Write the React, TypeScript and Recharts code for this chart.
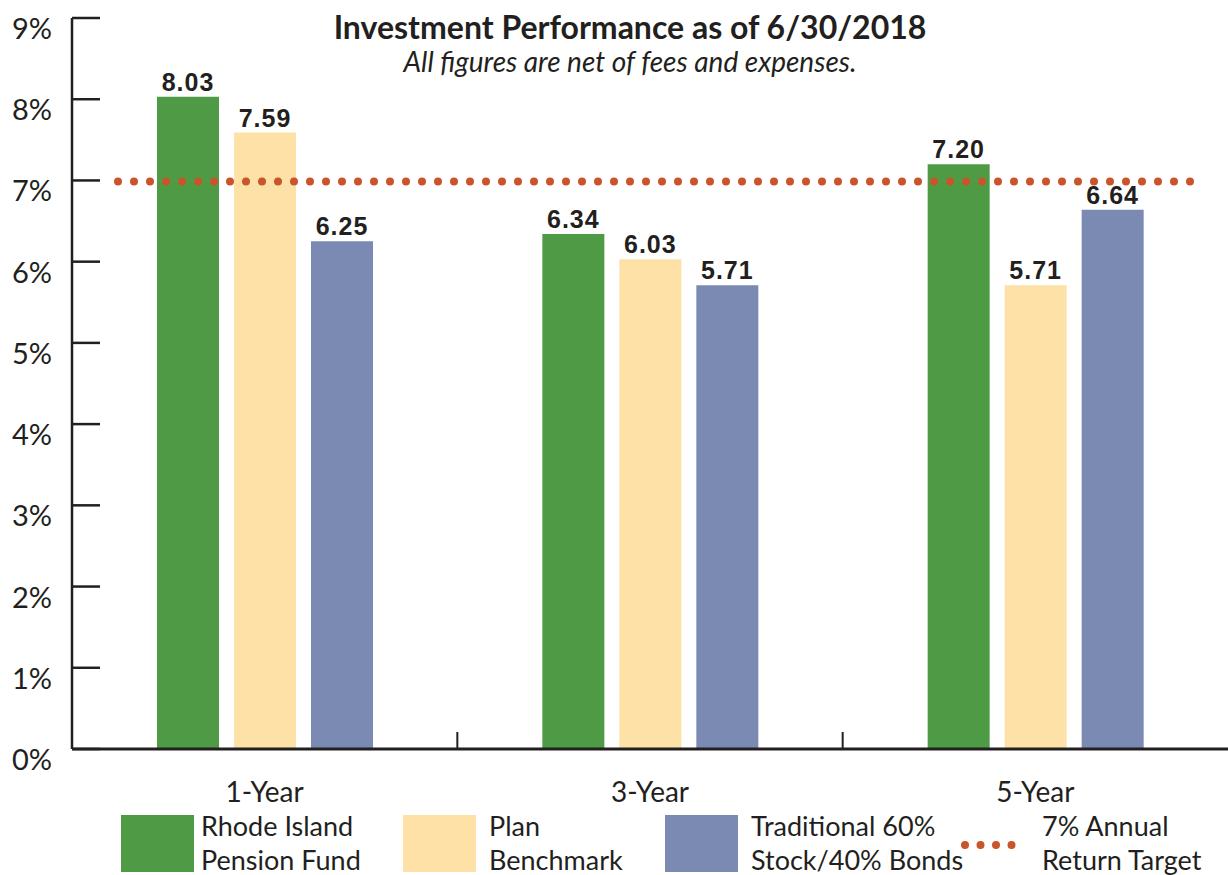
import { Bar, BarChart, LabelList, ReferenceLine, XAxis, YAxis } from 'recharts'

const categories = ['1-Year', '3-Year', '5-Year']
const rhodeIsland = [8.03, 6.34, 7.2]
const planBenchmark = [7.59, 6.03, 5.71]
const traditional = [6.25, 5.71, 6.64]
const yTicks = [0, 1, 2, 3, 4, 5, 6, 7, 8, 9]
const annualTarget = 7

const seriesNames = ['Rhode Island|Pension Fund', 'Plan|Benchmark', 'Traditional 60%|Stock/40% Bonds', '7% Annual|Return Target']

const GREEN = '#4f9a44'
const YELLOW = '#fde1a6'
const BLUE = '#7a8ab2'
const ORANGE = '#c8552b'
const INK = '#231f20'

const W = 1228
const H = 875
const PLOT_LEFT = 72
const PLOT_TOP = 18
const PLOT_BOTTOM = 749

const data = categories.map((period, i) => ({
  period,
  ri: rhodeIsland[i],
  plan: planBenchmark[i],
  trad: traditional[i],
}))

const bandWidth = (W - PLOT_LEFT) / categories.length

const font = 'Lato, "Open Sans", sans-serif'

const YTick = ({ x, y, payload }: any) => (
  <g>
    <line x1={x} x2={x + 28} y1={y} y2={y} stroke={INK} strokeWidth={2.5} />
    <text x={x - 20} y={y + 21} textAnchor="end" fill={INK} fontSize={29} fontFamily={font}>
      {payload.value}%
    </text>
  </g>
)

const XTick = ({ x, y, payload, index }: any) => (
  <g>
    {index < categories.length - 1 && (
      <line x1={x + bandWidth / 2} x2={x + bandWidth / 2} y1={y} y2={y - 17} stroke={INK} strokeWidth={2} />
    )}
    <text x={x} y={y + 53} textAnchor="middle" fill={INK} fontSize={28} fontFamily={font}>
      {payload.value}
    </text>
  </g>
)

// dotted target line starts a bit right of the axis and stops short of the edge
const TargetLine = (p: any) => (
  <line
    x1={p.x1 + 46}
    x2={p.x2 - 26}
    y1={p.y1 + 1}
    y2={p.y2 + 1}
    stroke={ORANGE}
    strokeWidth={8}
    strokeLinecap="round"
    strokeDasharray="0 16"
  />
)

const valueLabel = (v: any) => Number(v).toFixed(2)

const labelStyle = {
  fill: INK,
  fontSize: 25,
  fontWeight: 700,
  letterSpacing: 1,
  fontFamily: '"Liberation Sans", Arial, sans-serif',
}

function LegendItem({ left, textLeft, label, color, dotted }: any) {
  const [a, b] = label.split('|')
  return (
    <>
      {dotted ? (
        <svg style={{ position: 'absolute', left, top: 838 }} width={70} height={14}>
          <line x1={7} x2={68} y1={7} y2={7} stroke={ORANGE} strokeWidth={8} strokeLinecap="round" strokeDasharray="0 15.5" />
        </svg>
      ) : (
        <div style={{ position: 'absolute', left, top: 815, width: 73, height: 57, background: color }} />
      )}
      <div
        style={{
          position: 'absolute',
          left: textLeft,
          top: 809,
          fontFamily: font,
          fontSize: 27,
          lineHeight: '34px',
          color: INK,
          whiteSpace: 'nowrap',
        }}
      >
        {a}
        <br />
        {b}
      </div>
    </>
  )
}

export default function App() {
  return (
    <div style={{ position: 'absolute', left: 0, top: 0, width: W, height: H, background: '#fff', overflow: 'hidden' }}>
      <BarChart
        width={W}
        height={H}
        data={data}
        margin={{ top: PLOT_TOP, right: 0, left: 0, bottom: H - PLOT_BOTTOM - 60 }}
        barSize={62}
        barGap={15}
      >
        <XAxis
          dataKey="period"
          height={60}
          axisLine={{ stroke: INK, strokeWidth: 3 }}
          tickLine={false}
          tickSize={0}
          tickMargin={0}
          tick={<XTick />}
          interval={0}
        />
        <YAxis
          width={PLOT_LEFT}
          domain={[0, 9]}
          ticks={yTicks}
          interval={0}
          axisLine={{ stroke: INK, strokeWidth: 2.5 }}
          tickLine={false}
          tickSize={0}
          tickMargin={0}
          tick={<YTick />}
        />
        <Bar dataKey="ri" fill={GREEN} isAnimationActive={false}>
          <LabelList dataKey="ri" position="top" offset={6} formatter={valueLabel} style={labelStyle} />
        </Bar>
        <Bar dataKey="plan" fill={YELLOW} isAnimationActive={false}>
          <LabelList dataKey="plan" position="top" offset={6} formatter={valueLabel} style={labelStyle} />
        </Bar>
        <Bar dataKey="trad" fill={BLUE} isAnimationActive={false}>
          <LabelList dataKey="trad" position="top" offset={6} formatter={valueLabel} style={labelStyle} />
        </Bar>
        <ReferenceLine y={annualTarget} shape={TargetLine} />
      </BarChart>

      <div
        style={{
          position: 'absolute',
          left: 0,
          width: 1260,
          top: 8,
          textAlign: 'center',
          fontFamily: font,
          fontWeight: 700,
          fontSize: 32,
          lineHeight: 1.2,
          color: INK,
        }}
      >
        Investment Performance as of 6/30/2018
      </div>
      <div
        style={{
          position: 'absolute',
          left: 0,
          width: 1260,
          top: 45,
          textAlign: 'center',
          fontFamily: font,
          fontStyle: 'italic',
          fontSize: 28,
          lineHeight: 1.2,
          color: INK,
        }}
      >
        All figures are net of fees and expenses.
      </div>

      <LegendItem left={121} textLeft={201} label={seriesNames[0]} color={GREEN} />
      <LegendItem left={403} textLeft={489} label={seriesNames[1]} color={YELLOW} />
      <LegendItem left={665} textLeft={751} label={seriesNames[2]} color={BLUE} />
      <LegendItem left={958} textLeft={1042} label={seriesNames[3]} dotted />
    </div>
  )
}
